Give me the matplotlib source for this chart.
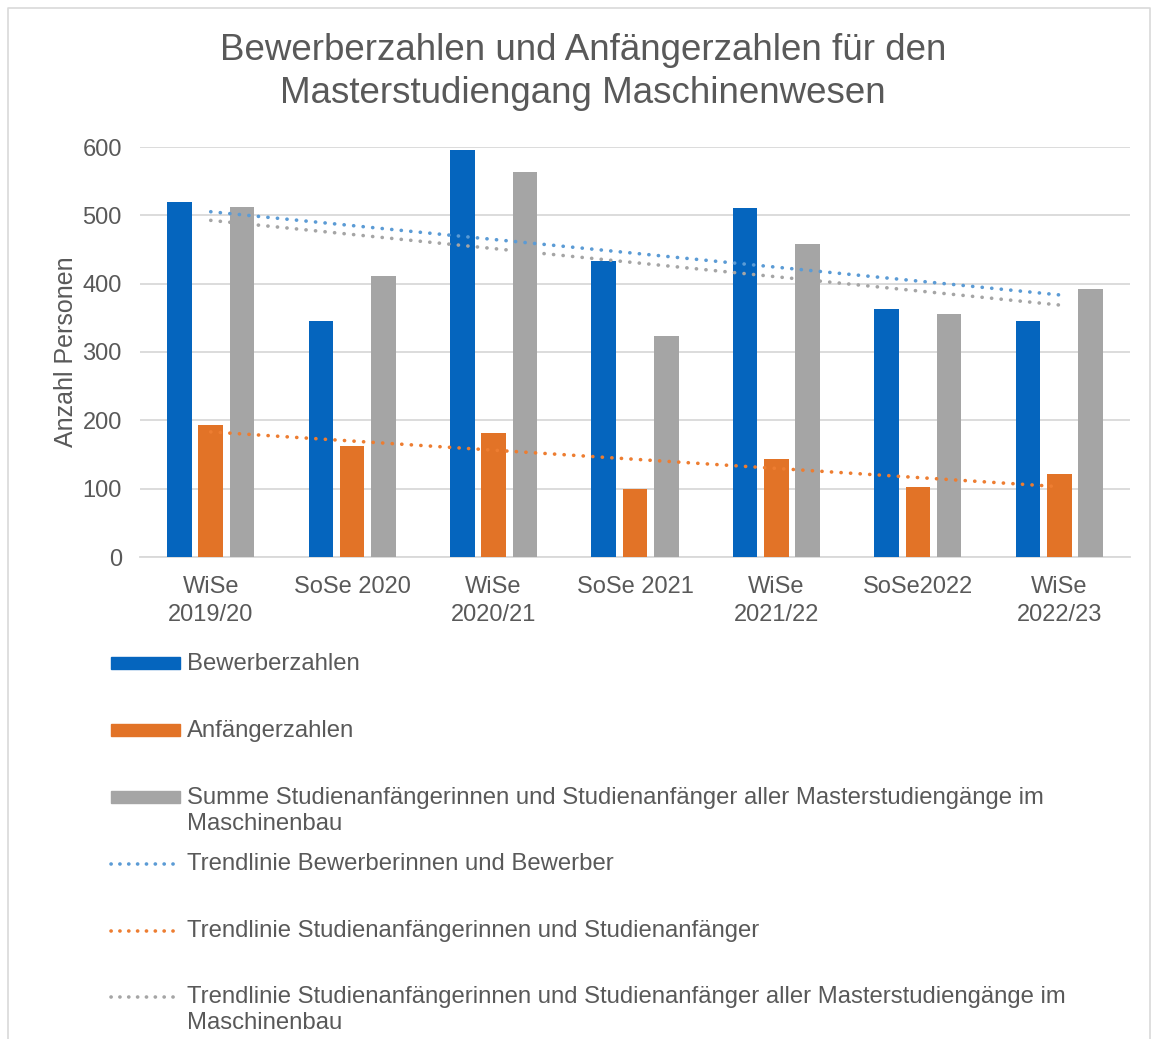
import matplotlib
matplotlib.use("Agg")
import matplotlib.pyplot as plt
import numpy as np
from matplotlib.patches import Rectangle
from matplotlib.lines import Line2D

categories = ["WiSe\n2019/20", "SoSe 2020", "WiSe\n2020/21", "SoSe 2021",
              "WiSe\n2021/22", "SoSe2022", "WiSe\n2022/23"]
bewerber = [519, 345, 595, 433, 510, 363, 346]
anfaenger = [193, 162, 181, 99, 143, 102, 121]
summe_mb = [512, 411, 564, 323, 458, 355, 392]

title = "Bewerberzahlen und Anfängerzahlen für den\nMasterstudiengang Maschinenwesen"
ylabel = "Anzahl Personen"
legend_labels = [
    "Bewerberzahlen",
    "Anfängerzahlen",
    "Summe Studienanfängerinnen und Studienanfänger aller Masterstudiengänge im\nMaschinenbau",
    "Trendlinie Bewerberinnen und Bewerber",
    "Trendlinie Studienanfängerinnen und Studienanfänger",
    "Trendlinie Studienanfängerinnen und Studienanfänger aller Masterstudiengänge im\nMaschinenbau",
]

c_blue = "#0565BE"
c_orange = "#E27327"
c_gray = "#A5A5A5"
c_tblue = "#5B9BD5"
c_torange = "#ED7D31"
c_tgray = "#A5A5A5"
txt = "#595959"

plt.rcParams["font.family"] = ["Liberation Sans", "DejaVu Sans"]

W, H = 1153, 1039
fig = plt.figure(figsize=(W / 100, H / 100), dpi=100)

def fx(px):
    return px / W

def fy(py):
    return 1 - py / H

ax = fig.add_axes([fx(140), fy(557), fx(1130) - fx(140), fy(147) - fy(557)])

x = np.arange(len(categories))
bw = 0.174
off = 0.221
ax.bar(x - off, bewerber, bw, color=c_blue, zorder=3)
ax.bar(x, anfaenger, bw, color=c_orange, zorder=3)
ax.bar(x + off, summe_mb, bw, color=c_gray, zorder=3)

for series, col in [(bewerber, c_tblue), (anfaenger, c_torange), (summe_mb, c_tgray)]:
    k, d = np.polyfit(x, series, 1)
    ax.plot([x[0], x[-1]], [k * x[0] + d, k * x[-1] + d], color=col, lw=2.6,
            linestyle=(0, (0.05, 2.6)), dash_capstyle="round", zorder=4)

ax.set_xlim(-0.5, len(categories) - 0.5)
ax.set_ylim(0, 600)
ax.set_yticks(range(0, 601, 100))
ax.yaxis.grid(True, color="#D9D9D9", lw=1.3, zorder=0)
ax.set_axisbelow(True)
for s in ["top", "right", "left"]:
    ax.spines[s].set_visible(False)
ax.spines["bottom"].set_color("#D9D9D9")
ax.spines["bottom"].set_linewidth(1.3)
ax.tick_params(axis="both", length=0, labelsize=17, colors=txt)
ax.tick_params(axis="y", pad=13)
ax.set_xticks(x)
ax.set_xticklabels(categories, linespacing=1.3, va="top")
ax.tick_params(axis="x", pad=14)
ax.set_ylabel(ylabel, fontsize=18, color=txt, labelpad=3)

fig.text(fx(583), fy(72), title, ha="center", va="center", fontsize=26.5,
         color=txt, linespacing=1.27)

# legend
rows = [663, 730, 797, 863, 930, 996]
kinds = ["bar", "bar", "bar", "line", "line", "line"]
cols = [c_blue, c_orange, c_gray, c_tblue, c_torange, c_tgray]
for py, kind, col, lab in zip(rows, kinds, cols, legend_labels):
    if kind == "bar":
        fig.patches.append(Rectangle((fx(111), fy(py + 6)), fx(180) - fx(111), fy(py - 6) - fy(py + 6),
                                     transform=fig.transFigure, color=col))
    else:
        fig.lines.append(Line2D([fx(111), fx(180)], [fy(py + 1), fy(py + 1)], transform=fig.transFigure,
                                color=col, lw=2.6, linestyle=(0, (0.05, 2.4)), dash_capstyle="round"))
    fig.text(fx(187), fy(py - 10), lab, ha="left", va="top", fontsize=17.2, color=txt,
             linespacing=1.22)

# outer border
fig.lines.append(Line2D([fx(8), fx(8), fx(1150), fx(1150)], [0, fy(8), fy(8), 0],
                        transform=fig.transFigure, color="#D9D9D9", lw=1.2))

fig.savefig("out.png", dpi=100)
